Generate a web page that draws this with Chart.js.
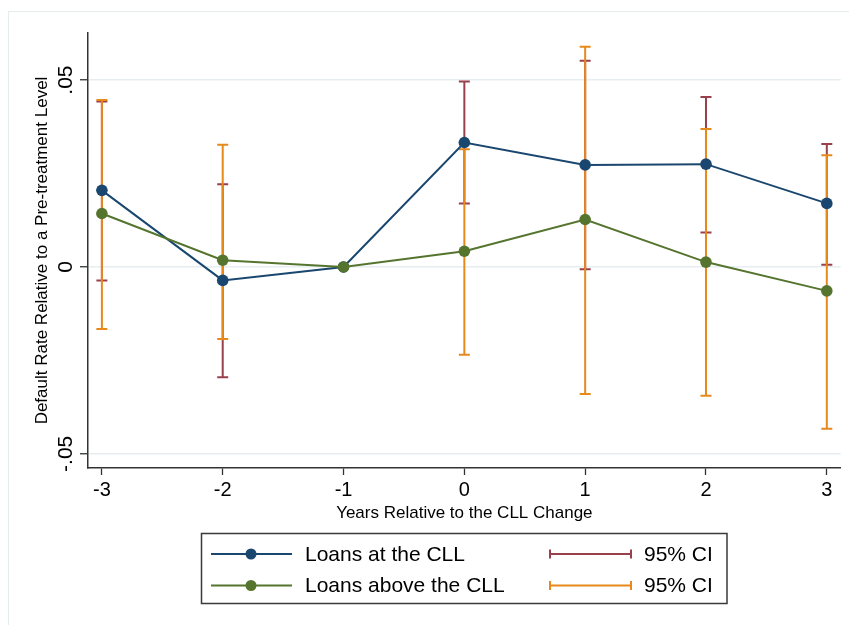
<!DOCTYPE html>
<html>
<head>
<meta charset="utf-8">
<script src="https://cdn.jsdelivr.net/npm/chart.js@4/dist/chart.umd.min.js"></script>
<style>
  html, body { margin: 0; padding: 0; background: #fff; }
  #wrap { width: 849px; height: 625px; position: relative; }
</style>
</head>
<body>
<div id="wrap"><canvas id="c" width="849" height="625"></canvas></div>
<script>
// Event-study estimates: default rate relative to the pre-treatment level
const years = [-3, -2, -1, 0, 1, 2, 3];

const atCLL    = [0.0205, -0.0036, 0, 0.0333, 0.0273, 0.0275, 0.0170];
const aboveCLL = [0.0143,  0.0018, 0, 0.0042, 0.0127, 0.0013, -0.0064];

// 95% confidence bounds (the reference year -1 has none)
const atCLLLow     = [-0.0036, -0.0295, null,  0.0170, -0.0006,  0.0092,  0.0006];
const atCLLHigh    = [ 0.0443,  0.0221, null,  0.0496,  0.0552,  0.0455,  0.0329];
const aboveCLLLow  = [-0.0166, -0.0193, null, -0.0235, -0.0340, -0.0345, -0.0433];
const aboveCLLHigh = [ 0.0447,  0.0327, null,  0.0315,  0.0589,  0.0369,  0.0299];

const seriesLabels = ['Loans at the CLL', 'Loans above the CLL'];
const ciLabels = ['95% CI', '95% CI'];

const yTicks = [-0.05, 0, 0.05];
const yTickLabels = ['-.05', '0', '.05'];
const xTickLabels = ['-3', '-2', '-1', '0', '1', '2', '3'];

const NAVY = '#1a476f';
const GREEN = '#55752f';
const MAROON = '#98404b';
const ORANGE = '#e8891b';
const FONT = '"Liberation Sans", Arial, Helvetica, sans-serif';

const ciSeries = [
  { low: atCLLLow, high: atCLLHigh, color: MAROON },
  { low: aboveCLLLow, high: aboveCLLHigh, color: ORANGE }
];

const toPoints = (vals) => years.map((x, i) => ({ x: x, y: vals[i] }));

// White page with a faint outer frame
const pageFrame = {
  id: 'pageFrame',
  beforeDraw(chart) {
    const ctx = chart.ctx;
    ctx.save();
    ctx.fillStyle = '#ffffff';
    ctx.fillRect(0, 0, chart.width, chart.height);
    ctx.strokeStyle = '#e6ecee';
    ctx.lineWidth = 1;
    ctx.strokeRect(8.5, 11.5, chart.width + 20, chart.height + 20);
    ctx.restore();
  }
};

// Capped vertical intervals, drawn underneath the connected estimates
const ciBars = {
  id: 'ciBars',
  beforeDatasetsDraw(chart) {
    const ctx = chart.ctx;
    const xs = chart.scales.x, ys = chart.scales.y;
    const cap = 5.5;
    ctx.save();
    ctx.lineWidth = 2;
    ctx.lineCap = 'butt';
    ciSeries.forEach(s => {
      ctx.strokeStyle = s.color;
      years.forEach((yr, i) => {
        if (s.low[i] == null || s.high[i] == null) return;
        const px = xs.getPixelForValue(yr);
        const p1 = ys.getPixelForValue(s.low[i]);
        const p2 = ys.getPixelForValue(s.high[i]);
        ctx.beginPath();
        ctx.moveTo(px, p1); ctx.lineTo(px, p2);
        ctx.moveTo(px - cap, p1); ctx.lineTo(px + cap, p1);
        ctx.moveTo(px - cap, p2); ctx.lineTo(px + cap, p2);
        ctx.stroke();
      });
    });
    ctx.restore();
  }
};

// Vertical (rotated) y tick labels
const yLabels = {
  id: 'yLabels',
  afterDraw(chart) {
    const ctx = chart.ctx;
    const ys = chart.scales.y;
    ctx.save();
    ctx.fillStyle = '#000';
    ctx.font = '21px ' + FONT;
    ctx.textAlign = 'center';
    ctx.textBaseline = 'middle';
    yTicks.forEach((v, i) => {
      const py = ys.getPixelForValue(v);
      ctx.save();
      ctx.translate(65, py);
      ctx.rotate(-Math.PI / 2);
      ctx.fillText(yTickLabels[i], 0, 1);
      ctx.restore();
    });
    ctx.restore();
  }
};

// Boxed two-column legend below the axis title
const boxLegend = {
  id: 'boxLegend',
  afterDraw(chart) {
    const ctx = chart.ctx;
    const ds = chart.data.datasets;
    const rows = [554, 585.5];
    ctx.save();
    ctx.strokeStyle = '#3a3a3a';
    ctx.lineWidth = 1.5;
    ctx.strokeRect(201.5, 533.5, 525.5, 70);
    ctx.font = '21px ' + FONT;
    ctx.textBaseline = 'middle';
    ctx.textAlign = 'left';
    ds.forEach((d, i) => {
      const y = rows[i];
      ctx.strokeStyle = d.borderColor;
      ctx.lineWidth = 2;
      ctx.beginPath(); ctx.moveTo(211, y); ctx.lineTo(292, y); ctx.stroke();
      ctx.fillStyle = d.backgroundColor;
      ctx.beginPath(); ctx.arc(251, y, 5.5, 0, Math.PI * 2); ctx.fill();
      ctx.fillStyle = '#000';
      ctx.fillText(d.label, 305, y + 1);
    });
    ciSeries.forEach((s, i) => {
      const y = rows[i];
      ctx.strokeStyle = s.color;
      ctx.lineWidth = 2;
      ctx.beginPath();
      ctx.moveTo(550, y); ctx.lineTo(631, y);
      ctx.moveTo(550, y - 4.5); ctx.lineTo(550, y + 4.5);
      ctx.moveTo(631, y - 4.5); ctx.lineTo(631, y + 4.5);
      ctx.stroke();
      ctx.fillStyle = '#000';
      ctx.fillText(ciLabels[i], 644, y + 1);
    });
    ctx.restore();
  }
};

new Chart(document.getElementById('c'), {
  type: 'line',
  data: {
    datasets: [
      {
        label: seriesLabels[0],
        data: toPoints(atCLL),
        borderColor: NAVY,
        backgroundColor: NAVY,
        borderWidth: 2,
        pointRadius: 5.8,
        pointBorderWidth: 0,
        pointHoverRadius: 5.8,
        tension: 0,
        order: 1
      },
      {
        label: seriesLabels[1],
        data: toPoints(aboveCLL),
        borderColor: GREEN,
        backgroundColor: GREEN,
        borderWidth: 2,
        pointRadius: 5.8,
        pointBorderWidth: 0,
        pointHoverRadius: 5.8,
        tension: 0,
        order: 0
      }
    ]
  },
  options: {
    responsive: false,
    animation: false,
    devicePixelRatio: 1,
    layout: { padding: { left: 0, top: 33, right: 8.3, bottom: 97 } },
    plugins: {
      legend: { display: false },
      tooltip: { enabled: false }
    },
    scales: {
      x: {
        type: 'linear',
        min: -3.115,
        max: 3.115,
        afterBuildTicks(scale) { scale.ticks = years.map(v => ({ value: v })); },
        afterFit(scale) { scale.height = 60; },
        ticks: {
          color: '#000',
          font: { family: FONT, size: 20 },
          padding: 3,
          maxRotation: 0,
          autoSkip: false,
          callback: (v) => xTickLabels[years.indexOf(v)]
        },
        grid: {
          drawOnChartArea: false,
          drawTicks: true,
          tickLength: 7,
          tickColor: '#333',
          tickWidth: 1.3
        },
        border: { display: true, color: '#333', width: 1.5 },
        title: {
          display: true,
          text: 'Years Relative to the CLL Change',
          color: '#000',
          font: { family: FONT, size: 17 },
          padding: { top: 0, bottom: 4 }
        }
      },
      y: {
        type: 'linear',
        min: -0.0538,
        max: 0.0626,
        afterBuildTicks(scale) { scale.ticks = yTicks.map(v => ({ value: v })); },
        afterFit(scale) { scale.width = 88; },
        ticks: { display: false },
        grid: {
          color: '#e7eef2',
          lineWidth: 1.5,
          drawTicks: true,
          tickLength: 8,
          tickColor: '#333',
          tickWidth: 1.3
        },
        border: { display: true, color: '#333', width: 1.5 },
        title: {
          display: true,
          text: 'Default Rate Relative to a Pre-treatment Level',
          color: '#000',
          font: { family: FONT, size: 17 },
          padding: { top: 32, bottom: 0 }
        }
      }
    }
  },
  plugins: [pageFrame, ciBars, yLabels, boxLegend]
});
</script>
</body>
</html>
